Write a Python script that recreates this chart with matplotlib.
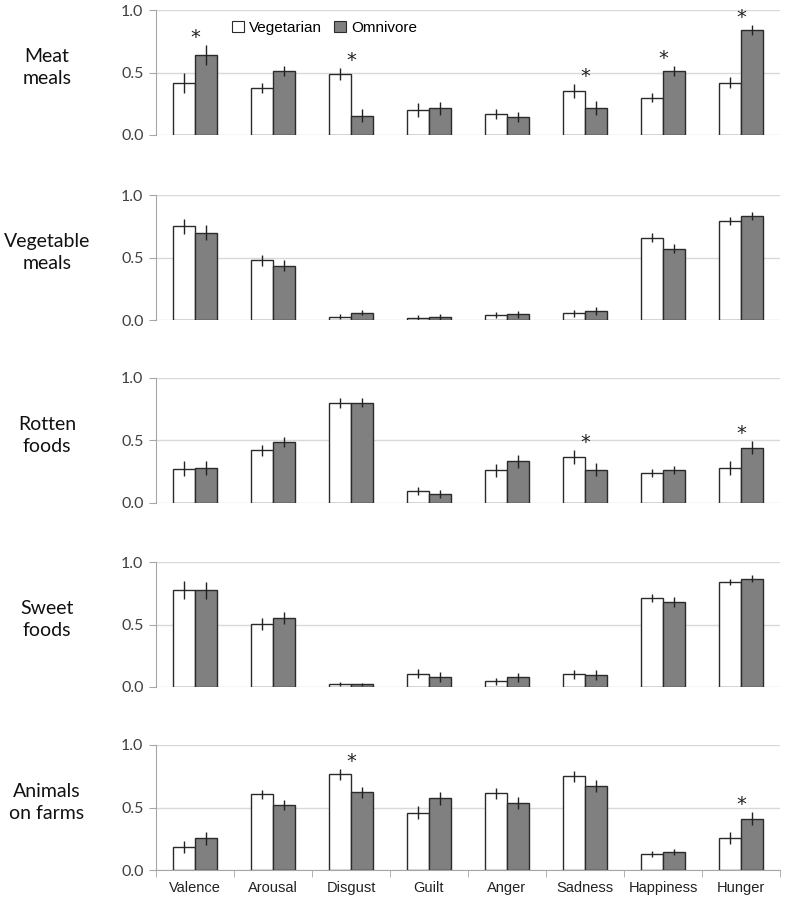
import matplotlib
matplotlib.use("Agg")
import matplotlib.pyplot as plt
from matplotlib.patches import Patch
import numpy as np

emotions = ["Valence", "Arousal", "Disgust", "Guilt", "Anger", "Sadness", "Happiness", "Hunger"]
row_labels = ["Meat\nmeals", "Vegetable\nmeals", "Rotten\nfoods", "Sweet\nfoods", "Animals\non farms"]

# mean ratings per row (vegetarian / omnivore)
veg_meat = [0.42, 0.38, 0.49, 0.20, 0.17, 0.35, 0.30, 0.42]
omn_meat = [0.64, 0.51, 0.155, 0.215, 0.145, 0.215, 0.515, 0.84]
veg_vegmeal = [0.75, 0.48, 0.025, 0.02, 0.043, 0.053, 0.66, 0.79]
omn_vegmeal = [0.70, 0.435, 0.06, 0.027, 0.048, 0.075, 0.57, 0.83]
veg_rotten = [0.275, 0.42, 0.80, 0.098, 0.262, 0.368, 0.24, 0.28]
omn_rotten = [0.28, 0.487, 0.80, 0.074, 0.333, 0.267, 0.262, 0.442]
veg_sweet = [0.778, 0.505, 0.024, 0.106, 0.045, 0.103, 0.712, 0.839]
omn_sweet = [0.775, 0.553, 0.021, 0.082, 0.079, 0.095, 0.68, 0.868]
veg_animals = [0.187, 0.605, 0.765, 0.459, 0.613, 0.749, 0.125, 0.256]
omn_animals = [0.253, 0.52, 0.621, 0.573, 0.536, 0.672, 0.144, 0.41]

# standard errors
veg_meat_err = [0.08, 0.04, 0.047, 0.053, 0.041, 0.056, 0.036, 0.044]
omn_meat_err = [0.08, 0.04, 0.05, 0.053, 0.043, 0.057, 0.04, 0.043]
veg_vegmeal_err = [0.06, 0.044, 0.02, 0.02, 0.024, 0.028, 0.037, 0.033]
omn_vegmeal_err = [0.061, 0.044, 0.023, 0.023, 0.028, 0.033, 0.037, 0.033]
veg_rotten_err = [0.057, 0.044, 0.038, 0.03, 0.053, 0.053, 0.034, 0.054]
omn_rotten_err = [0.057, 0.042, 0.036, 0.03, 0.053, 0.053, 0.032, 0.054]
veg_sweet_err = [0.07, 0.049, 0.015, 0.036, 0.026, 0.036, 0.033, 0.024]
omn_sweet_err = [0.069, 0.05, 0.015, 0.04, 0.037, 0.04, 0.037, 0.025]
veg_animals_err = [0.048, 0.036, 0.043, 0.05, 0.044, 0.041, 0.024, 0.048]
omn_animals_err = [0.05, 0.04, 0.043, 0.05, 0.047, 0.045, 0.025, 0.053]

# significant differences (index of emotion)
sig_meat = [0, 2, 5, 6, 7]
sig_vegmeal = []
sig_rotten = [5, 7]
sig_sweet = []
sig_animals = [2, 7]

veg_rows = [veg_meat, veg_vegmeal, veg_rotten, veg_sweet, veg_animals]
omn_rows = [omn_meat, omn_vegmeal, omn_rotten, omn_sweet, omn_animals]
veg_err_rows = [veg_meat_err, veg_vegmeal_err, veg_rotten_err, veg_sweet_err, veg_animals_err]
omn_err_rows = [omn_meat_err, omn_vegmeal_err, omn_rotten_err, omn_sweet_err, omn_animals_err]
sig_rows = [sig_meat, sig_vegmeal, sig_rotten, sig_sweet, sig_animals]

fig = plt.figure(figsize=(7.96, 9), dpi=100)
W, H = 796.0, 900.0
tops = [10, 195, 378, 562, 745]
ph = 125
x = np.arange(len(emotions))
bw = 0.28
grid_c = "#d9d9d9"
edge_c = "#2b2b2b"

for r in range(5):
    ax = fig.add_axes([156 / W, 1 - (tops[r] + ph) / H, 624 / W, ph / H])
    ax.bar(x - bw / 2, veg_rows[r], bw, color="white", edgecolor=edge_c, linewidth=1, zorder=3)
    ax.bar(x + bw / 2, omn_rows[r], bw, color="#808080", edgecolor=edge_c, linewidth=1, zorder=3)
    ax.errorbar(x - bw / 2, veg_rows[r], yerr=veg_err_rows[r], fmt="none", ecolor="#222222",
                elinewidth=1, capsize=0, zorder=4)
    ax.errorbar(x + bw / 2, omn_rows[r], yerr=omn_err_rows[r], fmt="none", ecolor="#222222",
                elinewidth=1, capsize=0, zorder=4)
    for i in sig_rows[r]:
        top = max(veg_rows[r][i] + veg_err_rows[r][i], omn_rows[r][i] + omn_err_rows[r][i])
        ax.text(x[i], top + 0.06, "*", ha="center", va="center", fontsize=14,
                family="DejaVu Sans", color="#222222")

    ax.set_xlim(-0.5, 7.5)
    ax.set_ylim(0, 1.0)
    ax.set_yticks([0, 0.5, 1.0])
    ax.set_yticklabels(["0.0", "0.5", "1.0"], family="Lato", fontsize=11.5, color="#404040")
    ax.yaxis.grid(True, color=grid_c, linewidth=1, zorder=0)
    ax.set_axisbelow(True)
    for s in ["top", "right"]:
        ax.spines[s].set_visible(False)
    ax.spines["left"].set_color("#a6a6a6")
    ax.tick_params(axis="y", length=5, color="#a6a6a6", pad=4)

    if r == 4:
        ax.spines["bottom"].set_color("#a6a6a6")
        ax.set_xticks(x)
        ax.set_xticklabels(emotions, family="Liberation Sans", fontsize=10.5, color="#222222")
        ax.set_xticks(np.arange(-0.5, 8, 1), minor=True)
        ax.tick_params(axis="x", which="major", length=0, pad=8)
        ax.tick_params(axis="x", which="minor", length=5, color="#a6a6a6")
    else:
        ax.spines["bottom"].set_visible(False)
        ax.set_xticks([])

    fig.text(47 / W, 1 - (tops[r] + ph / 2 - 5) / H, row_labels[r], ha="center", va="center",
             family="Lato", fontsize=14, color="#111111", linespacing=1.3)

    if r == 0:
        handles = [Patch(facecolor="white", edgecolor=edge_c, linewidth=0.8),
                   Patch(facecolor="#808080", edgecolor=edge_c, linewidth=0.8)]
        leg = ax.legend(handles, ["Vegetarian", "Omnivore"], loc="center left",
                        bbox_to_anchor=(0.1, 0.855), ncol=2, frameon=False,
                        handlelength=0.75, handleheight=0.75, handletextpad=0.35,
                        columnspacing=0.8, prop={"family": "Liberation Sans", "size": 11})

fig.savefig("out.png", dpi=100)
